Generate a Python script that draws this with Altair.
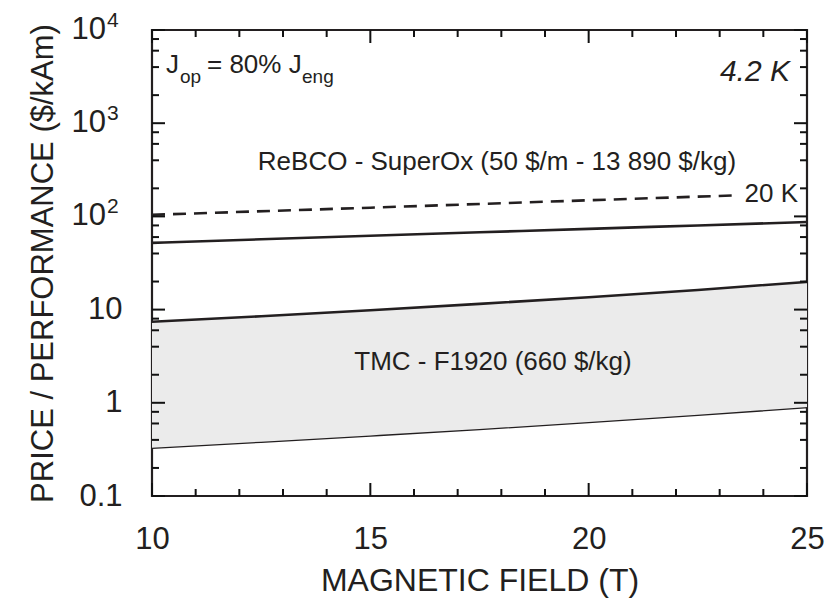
import altair as alt
import pandas as pd

# ---- data ----
field = [10, 12.5, 15, 17.5, 20, 22.5, 25]
rebco_4k = [52, 56.8, 62, 67.5, 73.5, 80, 87]
tmc_upper = [7.40, 8.49, 9.84, 11.51, 13.58, 16.26, 19.82]
tmc_lower = [0.325, 0.377, 0.440, 0.516, 0.612, 0.733, 0.885]
field_20k = [10, 15, 20, 23.35]
rebco_20k = [104, 124, 149, 168]

x_major = [10, 15, 20, 25]
x_minor = [11, 12, 13, 14, 16, 17, 18, 19, 21, 22, 23, 24]
y_major = [0.1, 1, 10, 100, 1000, 10000]
y_minor = [0.2, 0.4, 0.6, 0.8, 2, 4, 6, 8, 20, 40, 60, 80,
           200, 400, 600, 800, 2000, 4000, 6000, 8000]
pow_values = [100, 1000, 10000]
pow_exps = ["2", "3", "4"]

W, H = 655, 466
INK = "#231f20"
TICK = "#111111"
FONT = "Liberation Sans"

xs = alt.Scale(domain=[10, 25], nice=False, zero=False)
ys = alt.Scale(type="log", domain=[0.1, 10000], nice=False)

xaxis = alt.Axis(values=x_major, ticks=False, domain=False, grid=False,
                 labelFont=FONT, labelFontSize=31, labelColor=INK,
                 labelPadding=28, labelFlush=False, labelOverlap=False,
                 format="d", title="MAGNETIC FIELD (T)", titleFont=FONT,
                 titleFontSize=32, titleFontWeight="normal", titleColor=INK,
                 titlePadding=11, orient="bottom")
yaxis = alt.Axis(values=y_major, ticks=False, domain=False, grid=False,
                 labelFont=FONT, labelFontSize=31, labelColor=INK,
                 labelPadding=30, labelFlush=False, labelOverlap=False,
                 labelExpr="datum.value > 50 ? '' : datum.value > 5 ? '10' : datum.value > 0.5 ? '1' : '0.1'",
                 title="PRICE / PERFORMANCE ($/kAm)", titleFont=FONT,
                 titleFontSize=31, titleFontWeight="normal", titleColor=INK,
                 titlePadding=19, orient="left")

df = pd.DataFrame({"B": field, "rebco": rebco_4k, "hi": tmc_upper, "lo": tmc_lower})
df20 = pd.DataFrame({"B": field_20k, "rebco": rebco_20k})

area = alt.Chart(df).mark_area(color="#ebebeb", interpolate="monotone").encode(
    x=alt.X("B:Q", scale=xs, axis=xaxis),
    y=alt.Y("lo:Q", scale=ys, axis=yaxis), y2="hi:Q")


def line(data, col, width, dash=None):
    kw = dict(color=INK, strokeWidth=width)
    if dash:
        kw["strokeDash"] = dash
    else:
        kw["interpolate"] = "monotone"
    return alt.Chart(data).mark_line(**kw).encode(
        x=alt.X("B:Q", scale=xs, axis=None),
        y=alt.Y(col + ":Q", scale=ys, axis=None))


l_lo = line(df, "lo", 1.3)
l_hi = line(df, "hi", 2.6)
l_rebco = line(df, "rebco", 2.6)
l_20 = line(df20, "rebco", 2.6, dash=[13, 8])

# inward ticks on all four sides, positioned through the scales
dxM = pd.DataFrame({"B": x_major})
dxm = pd.DataFrame({"B": x_minor})
dyM = pd.DataFrame({"v": y_major})
dym = pd.DataFrame({"v": y_minor})


def xt(d, y0, y1):
    return alt.Chart(d).mark_rule(color=TICK, strokeWidth=2).encode(
        x=alt.X("B:Q", scale=xs, axis=None), y=alt.value(y0), y2=alt.value(y1))


def yt(d, x0, x1):
    return alt.Chart(d).mark_rule(color=TICK, strokeWidth=2).encode(
        y=alt.Y("v:Q", scale=ys, axis=None), x=alt.value(x0), x2=alt.value(x1))


tick_layers = [
    xt(dxM, H, H - 13), xt(dxM, 0, 13), xt(dxm, H, H - 7), xt(dxm, 0, 7),
    yt(dyM, 0, 13), yt(dyM, W, W - 13), yt(dym, 0, 7), yt(dym, W, W - 7),
]

# power-of-ten labels with real superscripts
dpow = pd.DataFrame({"v": pow_values, "e": pow_exps, "base": ["10", "10", "10"]})
pow_base = alt.Chart(dpow).mark_text(font=FONT, fontSize=31, color=INK, align="right",
                                     baseline="middle").encode(
    y=alt.Y("v:Q", scale=ys, axis=None), x=alt.value(-46), text="base:N")
pow_exp = alt.Chart(dpow).mark_text(font=FONT, fontSize=21, color=INK, align="left",
                                    baseline="alphabetic", dy=-3).encode(
    y=alt.Y("v:Q", scale=ys, axis=None), x=alt.value(-45), text="e:N")


def txt(s, x, y, size, align="left", style="normal"):
    return alt.Chart(pd.DataFrame({"t": [s]})).mark_text(
        font=FONT, fontSize=size, color=INK, align=align, baseline="alphabetic",
        fontStyle=style).encode(text="t:N", x=alt.value(x), y=alt.value(y))


texts = [
    txt("J", 14, 43, 26),
    txt("op", 28, 53, 19),
    txt("= 80% J", 55, 43, 26),
    txt("eng", 150, 53, 19),
    txt("4.2 K", 638, 51, 30, align="right", style="italic"),
    txt("ReBCO - SuperOx (50 $/m - 13 890 $/kg)", 345, 140, 26, align="center"),
    txt("20 K", 646, 172, 26, align="right"),
    txt("TMC - F1920 (660 $/kg)", 341, 340, 26, align="center"),
]

chart = alt.layer(area, l_lo, l_hi, l_rebco, l_20, *tick_layers, pow_base, pow_exp,
                  *texts).resolve_axis(x="independent", y="independent").properties(
    width=W, height=H,
    autosize=alt.AutoSizeParams(type="none"),
    padding={"left": 152, "top": 30, "right": 19, "bottom": 111},
).configure_view(stroke=INK, strokeWidth=2.2)

chart.save("out.html", embed_options={"renderer": "svg", "actions": False})
